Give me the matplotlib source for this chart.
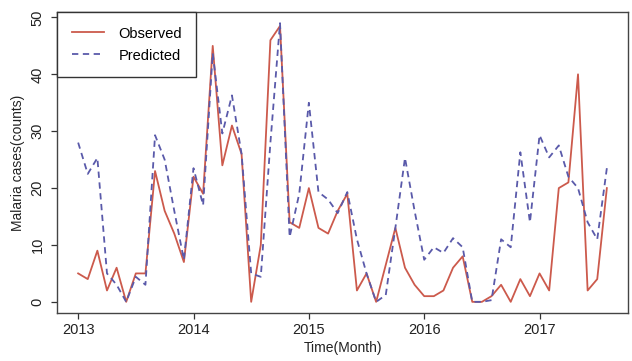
import numpy as np
import matplotlib
matplotlib.use("Agg")
import matplotlib.pyplot as plt

# Monthly malaria cases, Jan 2013 - Aug 2017
start_year = 2013
observed = [5, 4, 9, 2, 6, 0, 5, 5, 23, 16, 12, 7,
            22, 19, 45, 24, 31, 26, 0, 10, 46, 48.5, 14, 13,
            20, 13, 12, 16, 19, 2, 5, 0, 6.5, 13, 6, 3,
            1, 1, 2, 6, 8, 0, 0, 1, 3, 0, 4, 1,
            5, 2, 20, 21, 40, 2, 4, 20]
predicted = [28, 22.5, 25.3, 5, 3, 0, 4.4, 3, 29.3, 25, 16, 7.4,
             23.5, 17, 43.7, 29.6, 36.3, 26, 5, 4.4, 28, 49, 11.4, 19,
             35, 19.3, 18, 15.6, 19.3, 11, 5, 0, 1.2, 13, 25.3, 16,
             7.4, 9.6, 8.6, 11.2, 9.6, 0, 0, 0.3, 11, 9.6, 26.3, 14,
             29.3, 25.4, 27.5, 22, 20, 14, 11, 23.5]
year_ticks = [2013, 2014, 2015, 2016, 2017]
case_ticks = [0, 10, 20, 30, 40, 50]

plt.rcParams['font.family'] = ['Liberation Sans', 'DejaVu Sans']

t = start_year + np.arange(len(observed)) / 12.0

fig = plt.figure(figsize=(6.32, 3.61), dpi=100)
ax = fig.add_axes([57 / 632, 1 - 313 / 361, (628 - 57) / 632, (313 - 12) / 361])

ax.plot(t, observed, color='#cc5a4c', lw=1.3, label='Observed')
ax.plot(t, predicted, color='#5a5aaa', lw=1.3, dashes=(3.5, 2.5), label='Predicted')

# R style 4% padding on both axes
def pad(lo, hi):
    d = (hi - lo) * 0.04
    return lo - d, hi + d

ax.set_xlim(*pad(t.min(), t.max()))
ymax = max(max(observed), max(predicted))
ax.set_ylim(*pad(0, ymax))

ax.set_xticks(year_ticks)
ax.set_xticklabels([str(y) for y in year_ticks])
ax.set_yticks(case_ticks)
ax.set_yticklabels([str(v) for v in case_ticks], rotation=90, va='center')

ax.tick_params(direction='out', length=4, width=0.9, colors='#333333',
               labelsize=10.5, labelcolor='#222222')
ax.tick_params(axis='x', pad=3)
ax.tick_params(axis='y', pad=5)
for s in ax.spines.values():
    s.set_color('#444444')
    s.set_linewidth(1.0)

ax.set_xlabel('Time(Month)', fontsize=10, color='#222222', labelpad=3)
ax.set_ylabel('Malaria cases(counts)', fontsize=10, color='#222222', labelpad=4)

leg = ax.legend(loc='upper left', bbox_to_anchor=(0, 1), borderaxespad=0,
                fontsize=10.5, fancybox=False, framealpha=1,
                handlelength=2.2, handletextpad=1.0, borderpad=1.0,
                labelspacing=0.55)
leg.get_frame().set_edgecolor('#333333')
leg.get_frame().set_linewidth(1.0)

fig.savefig('out.png', dpi=100)
